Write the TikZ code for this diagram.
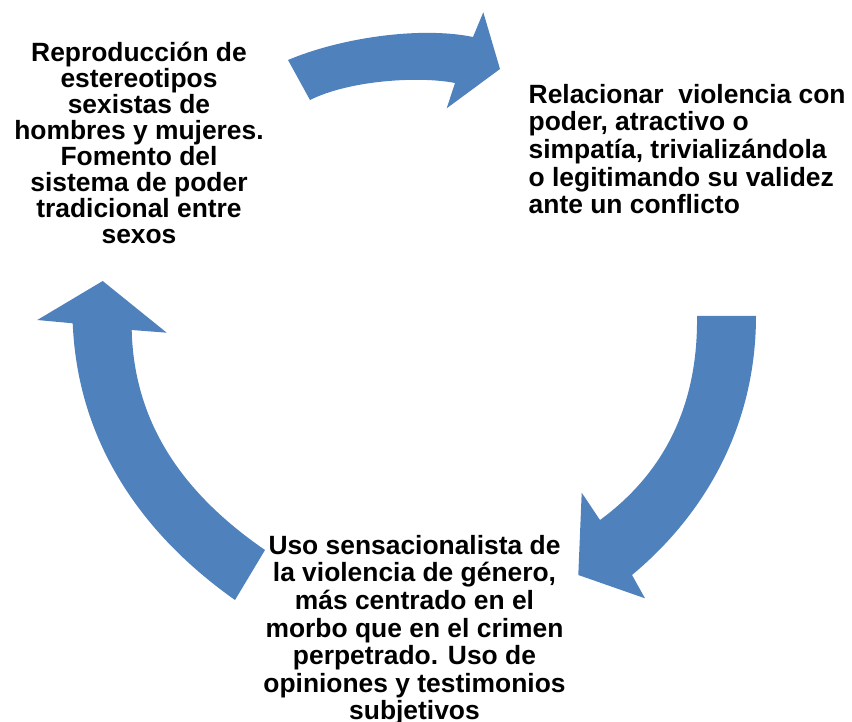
\documentclass[tikz,border=0pt]{standalone}
\usepackage{fontspec}
\setmainfont{Liberation Sans}
\usepackage{xcolor}
\usepackage{tikz}
\definecolor{cycleblue}{RGB}{79,129,189}
\tikzstyle{cycletext} = [inner sep=0pt, font=\fontsize{26.4}{27.6}\selectfont\bfseries, text=black]
\tikzstyle{cyclearrow} = [fill=cycleblue, draw=none]

\begin{document}
\begin{tikzpicture}[x=1pt, y=-1pt]
                    \useasboundingbox (0,0) rectangle (852,722);
                    \fill [cyclearrow] (310,100) .. controls (350,80) and (420,76) .. (455,83) -- (446.7,108.3) -- (500,69) -- (483.3,12.3) -- (473,37) .. controls (420,26) and (340,38) .. (288,60) -- cycle;
                    \fill [cyclearrow] (697,316) -- (756,316) .. controls (756,420) and (710,510) .. (632,575) -- (645,598.3) -- (578.3,575) -- (581.7,492.7) -- (600,520) .. controls (675,465) and (698,390) .. (697,316) -- cycle;
                    \fill [cyclearrow] (265,550) -- (235,600) .. controls (150,540) and (78,450) .. (72.7,323.3) -- (37.3,320) -- (102.7,281) -- (166.7,332.7) -- (131.7,330) .. controls (134,425) and (185,495) .. (265,550) -- cycle;
                    \node (Repro) [cycletext, align=center, anchor=north, font=\fontsize{26.4}{26}\selectfont\bfseries] at (139,41.5) {Reproducción de\\estereotipos\\sexistas de\\hombres y mujeres.\\Fomento del\\sistema de poder\\tradicional entre\\sexos};
                    \node (Relac) [cycletext, align=left, anchor=north west] at (528.5,84) {Relacionar\ \ violencia con\\poder, atractivo o\\simpatía, trivializándola\\o legitimando su validez\\ante un conflicto};
                    \node (Uso) [cycletext, align=center, anchor=north] at (414.5,535) {Uso sensacionalista de\\la violencia de género,\\más centrado en el\\morbo que en el crimen\\perpetrado. Uso de\\opiniones y testimonios\\subjetivos};
                \end{tikzpicture}
\end{document}
